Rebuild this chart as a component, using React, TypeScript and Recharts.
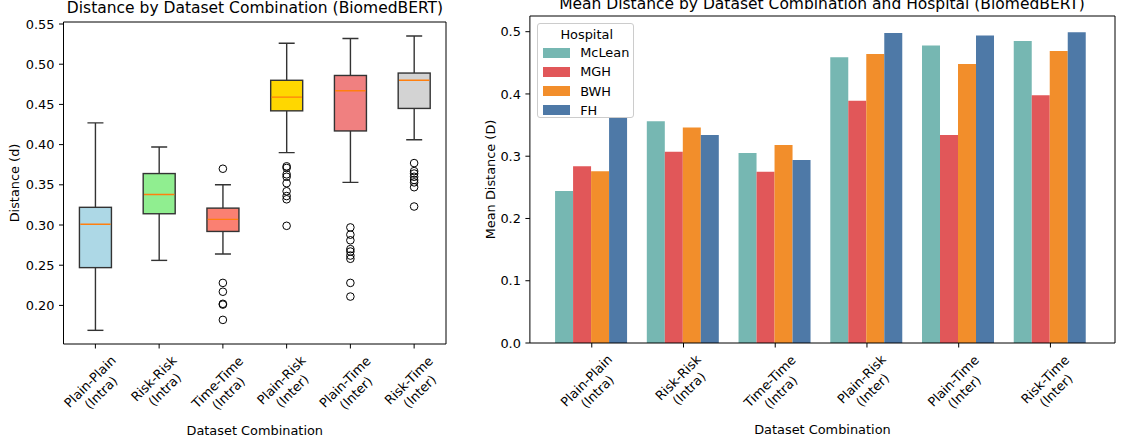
import React from 'react';
import { ComposedChart, BarChart, Bar, Scatter, XAxis, YAxis, Legend, Label, CartesianGrid } from 'recharts';

// ---------- data ----------
const categories = [
  'Plain-Plain\n(Intra)',
  'Risk-Risk\n(Intra)',
  'Time-Time\n(Intra)',
  'Plain-Risk\n(Inter)',
  'Plain-Time\n(Inter)',
  'Risk-Time\n(Inter)',
];

// Box plot statistics (left panel)
const whiskerLow = [0.169, 0.256, 0.264, 0.390, 0.353, 0.406];
const quartile1 = [0.247, 0.314, 0.292, 0.442, 0.417, 0.445];
const medians = [0.301, 0.338, 0.307, 0.459, 0.467, 0.480];
const quartile3 = [0.322, 0.364, 0.321, 0.480, 0.486, 0.489];
const whiskerHigh = [0.427, 0.397, 0.350, 0.526, 0.532, 0.535];
const outliers: number[][] = [
  [],
  [],
  [0.370, 0.228, 0.217, 0.202, 0.201, 0.182],
  [0.373, 0.371, 0.363, 0.360, 0.352, 0.342, 0.336, 0.332, 0.299],
  [0.297, 0.288, 0.281, 0.270, 0.267, 0.262, 0.258, 0.228, 0.211],
  [0.377, 0.367, 0.364, 0.360, 0.356, 0.353, 0.347, 0.323],
];
const boxColors = ['#add8e6', '#90ee90', '#fa8072', '#ffd700', '#f08080', '#d3d3d3'];

// Mean distance per hospital (right panel)
const hospitals = ['McLean', 'MGH', 'BWH', 'FH'];
const hospitalColors = ['#76b7b2', '#e15759', '#f28e2b', '#4e79a7'];
const mcleanMeans = [0.244, 0.356, 0.305, 0.459, 0.478, 0.485];
const mghMeans = [0.284, 0.307, 0.275, 0.389, 0.334, 0.398];
const bwhMeans = [0.276, 0.346, 0.318, 0.464, 0.448, 0.469];
const fhMeans = [0.363, 0.334, 0.294, 0.498, 0.494, 0.499];

const leftTicks = [0.2, 0.25, 0.3, 0.35, 0.4, 0.45, 0.5, 0.55];
const rightTicks = [0, 0.1, 0.2, 0.3, 0.4, 0.5];

// ---------- derived tables ----------
const boxData = categories.map((cat, i) => {
  const row: any = {
    cat,
    lo: whiskerLow[i],
    q1: quartile1[i],
    med: medians[i],
    q3: quartile3[i],
    hi: whiskerHigh[i],
    color: boxColors[i],
  };
  outliers[i].forEach((v, k) => {
    row['o' + k] = v;
  });
  return row;
});
const maxOutliers = Math.max(...outliers.map((o) => o.length));

const barData = categories.map((cat, i) => ({
  cat,
  McLean: mcleanMeans[i],
  MGH: mghMeans[i],
  BWH: bwhMeans[i],
  FH: fhMeans[i],
}));

// ---------- helpers ----------
const FONT = 'DejaVu Sans, Verdana, sans-serif';
const FS = 12.9;
const TITLE_FS = 15.5;

const W: Record<string, number> = {
  P: 0.603, l: 0.278, a: 0.613, i: 0.278, n: 0.634, '-': 0.361, '(': 0.39, ')': 0.39,
  I: 0.295, t: 0.392, r: 0.411, R: 0.695, s: 0.521, k: 0.579, T: 0.611, m: 0.974, e: 0.615,
};
const textWidth = (s: string, fs: number) =>
  s.split('').reduce((acc, c) => acc + (W[c] ?? 0.6), 0) * fs;

const XTick = (props: any) => {
  const { x, y, payload } = props;
  const lines = String(payload.value).split('\n');
  const lh = 15.5;
  const w = Math.max(...lines.map((l) => textWidth(l, FS)));
  const H = lines.length * lh;
  const cy = y + 2 + (w + H) / (2 * Math.SQRT2);
  return (
    <g transform={`translate(${x},${cy}) rotate(-45)`}>
      <text textAnchor="middle" fontSize={FS} fontFamily={FONT} fill="#000">
        {lines.map((l, i) => (
          <tspan key={i} x={0} y={(i - (lines.length - 1) / 2) * lh} dy="0.36em">
            {l}
          </tspan>
        ))}
      </text>
    </g>
  );
};

const makeYTick = (digits: number) => (props: any) => {
  const { x, y, payload } = props;
  return (
    <text x={x} y={y} textAnchor="end" fontSize={FS} fontFamily={FONT} fill="#000" dy="0.36em">
      {Number(payload.value).toFixed(digits)}
    </text>
  );
};

const xAxisLabel = (text: string) => (props: any) => {
  const vb = props.viewBox || {};
  const cx = vb.x + vb.width / 2;
  const cy = vb.y + 86;
  return (
    <text x={cx} y={cy} textAnchor="middle" fontSize={FS} fontFamily={FONT} fill="#000" dy="0.36em">
      {text}
    </text>
  );
};

const yAxisLabel = (text: string, off: number) => (props: any) => {
  const vb = props.viewBox || {};
  const cx = vb.x + off;
  const cy = vb.y + vb.height / 2;
  return (
    <g transform={`translate(${cx},${cy}) rotate(-90)`}>
      <text textAnchor="middle" fontSize={FS} fontFamily={FONT} fill="#000" dy="0.36em">
        {text}
      </text>
    </g>
  );
};

// frame (top + right spines) drawn by the grid
const topLine = (p: any) => [p.offset.top];
const rightLine = (p: any) => [p.offset.left + p.offset.width];

const EDGE = '#333';

const BoxShape = (props: any) => {
  const { x, y, width, height, payload } = props;
  if (payload == null || x == null) return <g />;
  const top = Math.min(y, y + height);
  const bot = Math.max(y, y + height);
  const { lo, hi, q1, med, q3, color } = payload;
  const py = (v: number) => top + ((hi - v) / (hi - lo)) * (bot - top);
  const cx = x + width / 2;
  const capHalf = width / 4;
  return (
    <g>
      <line x1={cx} x2={cx} y1={py(hi)} y2={py(q3)} stroke={EDGE} strokeWidth={1.4} />
      <line x1={cx} x2={cx} y1={py(q1)} y2={py(lo)} stroke={EDGE} strokeWidth={1.4} />
      <line x1={cx - capHalf} x2={cx + capHalf} y1={py(hi)} y2={py(hi)} stroke={EDGE} strokeWidth={1.4} />
      <line x1={cx - capHalf} x2={cx + capHalf} y1={py(lo)} y2={py(lo)} stroke={EDGE} strokeWidth={1.4} />
      <rect x={x} y={py(q3)} width={width} height={py(q1) - py(q3)} fill={color} stroke={EDGE} strokeWidth={1.4} />
      <line x1={x + 0.8} x2={x + width - 0.8} y1={py(med)} y2={py(med)} stroke="#ff7f0e" strokeWidth={1.4} />
    </g>
  );
};

const OutlierShape = (props: any) => {
  const { cx, cy } = props;
  if (cx == null || cy == null || isNaN(cx) || isNaN(cy)) return <g />;
  return <circle cx={cx} cy={cy} r={3.8} fill="none" stroke="#000" strokeWidth={1} />;
};

const LegendBox = (props: any) => {
  const payload = props.payload || [];
  const order = hospitals
    .map((h) => payload.find((p: any) => p.value === h || p.dataKey === h))
    .filter(Boolean);
  return (
    <div
      style={{
        position: 'relative',
        width: 97,
        height: 95,
        border: '1px solid #cccccc',
        borderRadius: 3,
        background: 'rgba(255,255,255,0.8)',
        fontFamily: FONT,
        fontSize: FS,
        color: '#000',
        boxSizing: 'border-box',
      }}
    >
      <div
        style={{
          position: 'absolute',
          left: 0,
          width: 97,
          top: 3.5,
          textAlign: 'center',
          whiteSpace: 'nowrap',
          lineHeight: '15px',
        }}
      >
        Hospital
      </div>
      {order.map((p: any, i: number) => (
        <div key={p.value} style={{ position: 'absolute', left: 0, top: 24 + i * 19.2, height: 12, width: 97 }}>
          <div
            style={{
              position: 'absolute',
              left: 4.5,
              top: 0,
              width: 27.5,
              height: 10,
              background: p.color,
            }}
          />
          <div
            style={{
              position: 'absolute',
              left: 42,
              top: -2.5,
              whiteSpace: 'nowrap',
              lineHeight: '15px',
            }}
          >
            {p.value}
          </div>
        </div>
      ))}
    </div>
  );
};

export default function App() {
  return (
    <div
      style={{
        position: 'fixed',
        left: 0,
        top: 0,
        width: 1121,
        height: 445,
        background: '#fff',
        overflow: 'hidden',
        fontFamily: FONT,
      }}
    >
      {/* Titles */}
      <div
        style={{
          position: 'absolute',
          left: 0,
          width: 510,
          top: 1,
          textAlign: 'center',
          fontSize: TITLE_FS,
          lineHeight: '15.5px',
          whiteSpace: 'nowrap',
          color: '#000',
        }}
      >
        Distance by Dataset Combination (BiomedBERT)
      </div>
      <div
        style={{
          position: 'absolute',
          left: 522,
          width: 600,
          top: -3.2,
          textAlign: 'center',
          fontSize: TITLE_FS,
          lineHeight: '15.5px',
          whiteSpace: 'nowrap',
          color: '#000',
        }}
      >
        Mean Distance by Dataset Combination and Hospital (BiomedBERT)
      </div>

      {/* Left: box plot */}
      <div style={{ position: 'absolute', left: 0, top: 0 }}>
        <ComposedChart
          width={480}
          height={445}
          data={boxData}
          margin={{ top: 22, right: 34, bottom: 6, left: 0 }}
          barCategoryGap="25%"
        >
          <CartesianGrid
            stroke="#000"
            strokeWidth={1}
            horizontalCoordinatesGenerator={topLine}
            verticalCoordinatesGenerator={rightLine}
          />
          <XAxis
            dataKey="cat"
            type="category"
            height={95}
            interval={0}
            tickSize={4.5}
            tickMargin={2}
            axisLine={{ stroke: '#000', strokeWidth: 1 }}
            tickLine={{ stroke: '#000' }}
            tick={<XTick />}
          >
            <Label content={xAxisLabel('Dataset Combination')} />
          </XAxis>
          <YAxis
            type="number"
            domain={[0.152, 0.5525]}
            allowDataOverflow
            ticks={leftTicks}
            width={63.5}
            tickSize={4.5}
            tickMargin={4.5}
            axisLine={{ stroke: '#000', strokeWidth: 1 }}
            tickLine={{ stroke: '#000' }}
            tick={makeYTick(2)}
          >
            <Label content={yAxisLabel('Distance (d)', 14)} />
          </YAxis>
          <Bar
            dataKey={(d: any) => [d.lo, d.hi]}
            shape={<BoxShape />}
            isAnimationActive={false}
          />
          {Array.from({ length: maxOutliers }, (_, k) => (
            <Scatter
              key={'o' + k}
              dataKey={(d: any) => (d['o' + k] == null ? null : d['o' + k])}
              shape={<OutlierShape />}
              isAnimationActive={false}
            />
          ))}
        </ComposedChart>
      </div>

      {/* Right: grouped bars */}
      <div style={{ position: 'absolute', left: 480, top: 0 }}>
        <BarChart
          width={641}
          height={445}
          data={barData}
          margin={{ top: 16, right: 6, bottom: 6, left: 0 }}
          barCategoryGap="10%"
          barGap={0}
        >
          <CartesianGrid
            stroke="#000"
            strokeWidth={1}
            horizontalCoordinatesGenerator={topLine}
            verticalCoordinatesGenerator={rightLine}
          />
          <XAxis
            dataKey="cat"
            type="category"
            height={96}
            interval={0}
            padding={{ left: 16, right: 18.7 }}
            tickSize={4.5}
            tickMargin={2}
            axisLine={{ stroke: '#000', strokeWidth: 1 }}
            tickLine={{ stroke: '#000' }}
            tick={<XTick />}
          >
            <Label content={xAxisLabel('Dataset Combination')} />
          </XAxis>
          <YAxis
            type="number"
            domain={[0, 0.5252]}
            allowDataOverflow
            ticks={rightTicks}
            width={49.9}
            tickSize={4.5}
            tickMargin={4.5}
            axisLine={{ stroke: '#000', strokeWidth: 1 }}
            tickLine={{ stroke: '#000' }}
            tick={makeYTick(1)}
          >
            <Label content={yAxisLabel('Mean Distance (D)', 10)} />
          </YAxis>
          <Legend
            layout="horizontal"
            verticalAlign="middle"
            align="center"
            wrapperStyle={{ left: 57.2, top: 22.7, width: 97, height: 95 }}
            content={<LegendBox />}
          />
          {hospitals.map((h, i) => (
            <Bar key={h} dataKey={h} name={h} fill={hospitalColors[i]} isAnimationActive={false} />
          ))}
        </BarChart>
      </div>
    </div>
  );
}
